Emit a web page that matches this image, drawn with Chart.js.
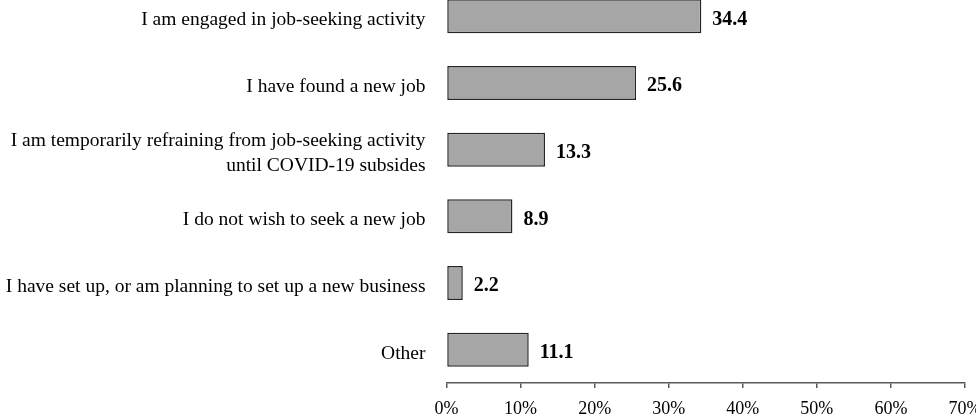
<!DOCTYPE html>
<html>
<head>
<meta charset="utf-8">
<script src="https://cdn.jsdelivr.net/npm/chart.js@4"></script>
<style>
  html, body { margin: 0; padding: 0; background: #fff; overflow: hidden; width: 976px; height: 418px; }
  #wrap { position: absolute; left: 0; top: -17px; width: 1010px; height: 435px; }
</style>
</head>
<body>
<div id="wrap"><canvas id="c"></canvas></div>
<script>
const categories = [
  "I am engaged in job-seeking activity",
  "I have found a new job",
  ["I am temporarily refraining from job-seeking activity", "until COVID-19 subsides"],
  "I do not wish to seek a new job",
  "I have set up, or am planning to set up a new business",
  "Other"
];
const values = [34.4, 25.6, 13.3, 8.9, 2.2, 11.1];
const xTicks = [0, 10, 20, 30, 40, 50, 60, 70];

const FONT = "'Liberation Serif', 'Times New Roman', serif";

const valueLabels = {
  id: 'valueLabels',
  afterDatasetsDraw(chart) {
    const ctx = chart.ctx;
    const meta = chart.getDatasetMeta(0);
    ctx.save();
    ctx.font = "bold 20px " + FONT;
    ctx.fillStyle = '#000';
    ctx.textAlign = 'left';
    ctx.textBaseline = 'middle';
    meta.data.forEach((bar, i) => {
      ctx.fillText(values[i].toFixed(1), bar.x + 11, bar.y + 3);
    });
    ctx.restore();
  }
};

new Chart(document.getElementById('c'), {
  type: 'bar',
  data: {
    labels: categories,
    datasets: [{
      data: values,
      backgroundColor: '#a6a6a6',
      borderColor: '#262626',
      borderWidth: 1.5,
      borderSkipped: false,
      barPercentage: 0.51,
      categoryPercentage: 1.0
    }]
  },
  options: {
    indexAxis: 'y',
    responsive: true,
    maintainAspectRatio: false,
    animation: false,
    layout: { padding: { top: 0, right: 45, bottom: 0, left: 0 } },
    plugins: { legend: { display: false }, tooltip: { enabled: false } },
    scales: {
      x: {
        min: 0, max: 70,
        afterBuildTicks(scale) { scale.ticks = xTicks.map(v => ({ value: v })); },
        afterFit(scale) { scale.height = 35; },
        ticks: {
          callback: v => v + '%',
          color: '#000',
          font: { family: FONT, size: 18 },
          padding: 10,
          maxRotation: 0,
          autoSkip: false
        },
        grid: { drawOnChartArea: false, drawTicks: true, tickLength: 5, color: '#595959', lineWidth: 1.5 },
        border: { display: true, color: '#595959', width: 1.5 }
      },
      y: {
        afterFit(scale) { scale.width = 446.5; scale.paddingTop = 0; scale.paddingBottom = 0; },
        ticks: {
          color: '#000',
          font: { family: FONT, size: 19.5, lineHeight: 1.28 },
          padding: 21,
          labelOffset: 4,
          autoSkip: false
        },
        grid: { display: false, drawTicks: false },
        border: { display: false }
      }
    }
  },
  plugins: [valueLabels]
});
</script>
</body>
</html>
